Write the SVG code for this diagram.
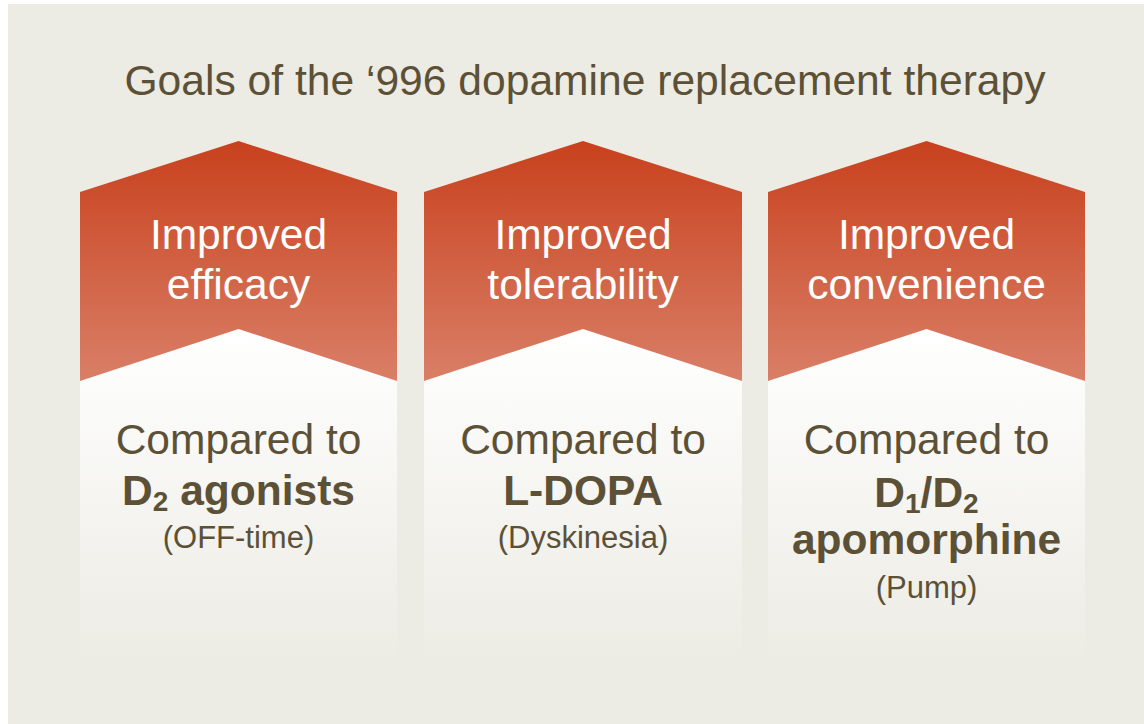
<svg xmlns="http://www.w3.org/2000/svg" width="1144" height="724" viewBox="0 0 1144 724">
  <defs>
    <linearGradient id="red" x1="0" y1="0" x2="0" y2="1">
      <stop offset="0" stop-color="#C8411D"/>
      <stop offset="1" stop-color="#D97F67"/>
    </linearGradient>
    <linearGradient id="panel" x1="0" y1="0" x2="0" y2="1">
      <stop offset="0" stop-color="#FFFFFF"/>
      <stop offset="1" stop-color="#ECEBE4"/>
    </linearGradient>
    <style>
      .title { font-family: "Liberation Sans", Arial, sans-serif; font-size: 42.6px; fill: #5C5137; }
      .head { font-family: "Liberation Sans", Arial, sans-serif; font-size: 42.5px; fill: #FFFFFF; text-anchor: middle; }
      .body { font-family: "Liberation Sans", Arial, sans-serif; font-size: 42.5px; fill: #5C5137; text-anchor: middle; }
      .bold { font-weight: bold; }
      .small { font-size: 31px; }
      .sub { font-size: 28px; }
    </style>
  </defs>
  <rect x="0" y="0" width="1144" height="724" fill="#FFFFFF"/>
  <rect x="8" y="4" width="1136" height="720" fill="#ECEBE4"/>
  <text class="title" x="585" y="95" text-anchor="middle">Goals of the ‘996 dopamine replacement therapy</text>

  <g id="col1">
    <rect x="80" y="329" width="317" height="336" fill="url(#panel)"/>
    <polygon points="80,192 238.5,141 397,192 397,381 238.5,329 80,381" fill="url(#red)"/>
    <text class="head" x="238.5" y="249">Improved</text>
    <text class="head" x="238.5" y="299">efficacy</text>
    <text class="body" x="238.5" y="454">Compared to</text>
    <text class="body bold" x="238.5" y="505">D<tspan class="sub" dy="6">2</tspan><tspan dy="-6"> agonists</tspan></text>
    <text class="body small" x="238.5" y="548">(OFF-time)</text>
  </g>

  <g id="col2">
    <rect x="424" y="329" width="318" height="336" fill="url(#panel)"/>
    <polygon points="424,192 583,141 742,192 742,381 583,329 424,381" fill="url(#red)"/>
    <text class="head" x="583" y="249">Improved</text>
    <text class="head" x="583" y="299">tolerability</text>
    <text class="body" x="583" y="454">Compared to</text>
    <text class="body bold" x="583" y="505">L-DOPA</text>
    <text class="body small" x="583" y="548">(Dyskinesia)</text>
  </g>

  <g id="col3">
    <rect x="768" y="329" width="317" height="336" fill="url(#panel)"/>
    <polygon points="768,192 926.5,141 1085,192 1085,381 926.5,329 768,381" fill="url(#red)"/>
    <text class="head" x="926.5" y="249">Improved</text>
    <text class="head" x="926.5" y="299">convenience</text>
    <text class="body" x="926.5" y="454">Compared to</text>
    <text class="body bold" x="926.5" y="507">D<tspan class="sub" dy="6">1</tspan><tspan dy="-6">/D</tspan><tspan class="sub" dy="6">2</tspan></text>
    <text class="body bold" x="926.5" y="554">apomorphine</text>
    <text class="body small" x="926.5" y="598">(Pump)</text>
  </g>

  <g id="connectors"/>
</svg>
